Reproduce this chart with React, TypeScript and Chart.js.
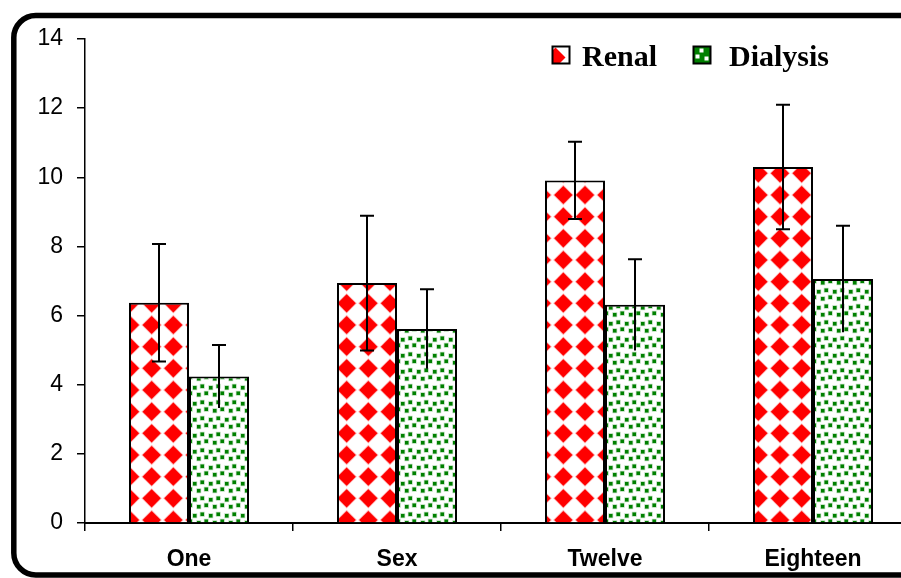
import React, { useEffect, useRef } from "react";
import { Chart, registerables } from "chart.js";

Chart.register(...registerables);

// ---- data ----
const categories = ["One", "Sex", "Twelve", "Eighteen"];
const seriesNames = ["Renal", "Dialysis"];
const renalValues = [6.37, 6.94, 9.91, 10.3];
const renalErrors = [1.7, 1.95, 1.12, 1.8];
const dialysisValues = [4.24, 5.61, 6.31, 7.06];
const dialysisErrors = [0.91, 1.15, 1.32, 1.54];
const yMin = 0;
const yMax = 14;
const yStep = 2;

const RED = "#ff0000";
const GREEN = "#008000";

function drawDiamond(g: CanvasRenderingContext2D, cx: number, cy: number, h: number) {
  g.beginPath();
  g.moveTo(cx, cy - h);
  g.lineTo(cx + h, cy);
  g.lineTo(cx, cy + h);
  g.lineTo(cx - h, cy);
  g.closePath();
}

function makeDiamondPattern(ctx: CanvasRenderingContext2D): CanvasPattern {
  const size = 65;
  const s = size / 3;
  const c = document.createElement("canvas");
  c.width = size;
  c.height = size;
  const g = c.getContext("2d")!;
  g.fillStyle = "#ffffff";
  g.fillRect(0, 0, size, size);
  for (let i = -1; i <= 3; i++) {
    for (let j = -1; j <= 3; j++) {
      const cx = i * s;
      const cy = j * s;
      drawDiamond(g, cx, cy, 10.2);
      g.fillStyle = "rgba(255,120,120,0.55)";
      g.fill();
      drawDiamond(g, cx, cy, 9.1);
      g.fillStyle = RED;
      g.fill();
    }
  }
  return ctx.createPattern(c, "repeat")!;
}

function makeDotPattern(ctx: CanvasRenderingContext2D): CanvasPattern {
  const size = 16;
  const c = document.createElement("canvas");
  c.width = size;
  c.height = size;
  const g = c.getContext("2d")!;
  g.fillStyle = "#ffffff";
  g.fillRect(0, 0, size, size);
  const spots = [
    [1, 2],
    [8.5, 0.5],
    [5, 9],
    [12.5, 7.5],
  ];
  for (const [x, y] of spots) {
    for (const dx of [-size, 0, size]) {
      for (const dy of [-size, 0, size]) {
        g.fillStyle = "rgba(0,128,0,0.3)";
        g.fillRect(x + dx - 0.7, y + dy - 0.7, 4.9, 4.9);
        g.fillStyle = GREEN;
        g.fillRect(x + dx, y + dy, 3.5, 3.5);
      }
    }
  }
  return ctx.createPattern(c, "repeat")!;
}

const framePlugin = {
  id: "frame",
  beforeDraw(chart: any) {
    const ctx = chart.ctx;
    ctx.save();
    ctx.lineWidth = 5.5;
    ctx.strokeStyle = "#000";
    ctx.beginPath();
    (ctx as any).roundRect(13.8, 15.5, 1000, 559.5, 22);
    ctx.stroke();
    ctx.restore();
  },
};

const errorBarPlugin = {
  id: "errorBars",
  afterDatasetsDraw(chart: any) {
    const ctx = chart.ctx;
    const yScale = chart.scales.y;
    ctx.save();
    ctx.strokeStyle = "#000";
    ctx.lineWidth = 2;
    chart.data.datasets.forEach((ds: any, di: number) => {
      const meta = chart.getDatasetMeta(di);
      meta.data.forEach((bar: any, i: number) => {
        const v = ds.data[i];
        const e = ds.errors[i];
        const x = Math.round(bar.x);
        const yt = yScale.getPixelForValue(v + e);
        const yb = yScale.getPixelForValue(v - e);
        ctx.beginPath();
        ctx.moveTo(x, yt);
        ctx.lineTo(x, yb);
        ctx.moveTo(x - 7, yt);
        ctx.lineTo(x + 7, yt);
        if (ds.lowerCap) {
          ctx.moveTo(x - 7, yb);
          ctx.lineTo(x + 7, yb);
        }
        ctx.stroke();
      });
    });
    ctx.restore();
  },
};

const legendPlugin = {
  id: "customLegend",
  afterDraw(chart: any) {
    const ctx = chart.ctx;
    const ds = chart.data.datasets;
    const items = [
      { box: 552.5, text: 582 },
      { box: 693.5, text: 729 },
    ];
    const top = 46.5;
    const sz = 17;
    ctx.save();
    items.forEach((it, i) => {
      ctx.save();
      ctx.beginPath();
      ctx.rect(it.box, top, sz, sz);
      ctx.clip();
      if (i === 0) {
        ctx.fillStyle = "#fff";
        ctx.fillRect(it.box, top, sz, sz);
        drawDiamond(ctx, it.box + 3, top + 11, 10);
        ctx.fillStyle = RED;
        ctx.fill();
      } else {
        ctx.fillStyle = GREEN;
        ctx.fillRect(it.box, top, sz, sz);
        ctx.fillStyle = "#fff";
        ctx.fillRect(it.box + 6, top + 2, 4, 4);
        ctx.fillRect(it.box + 2, top + 8, 4, 4);
        ctx.fillRect(it.box + 11, top + 10, 4, 4);
      }
      ctx.restore();
      ctx.lineWidth = 2;
      ctx.strokeStyle = "#000";
      ctx.strokeRect(it.box, top, sz, sz);
      ctx.fillStyle = "#000";
      ctx.font = "bold 30px 'Liberation Serif', 'Times New Roman', serif";
      ctx.textBaseline = "alphabetic";
      ctx.textAlign = "left";
      ctx.fillText(ds[i].label, it.text, 65.5);
    });
    ctx.restore();
  },
};

export default function App() {
  const ref = useRef<HTMLCanvasElement>(null);

  useEffect(() => {
    const canvas = ref.current!;
    const ctx = canvas.getContext("2d")!;
    const redPattern = makeDiamondPattern(ctx);
    const greenPattern = makeDotPattern(ctx);

    const chart = new Chart(canvas, {
      type: "bar",
      data: {
        labels: categories,
        datasets: [
          {
            label: seriesNames[0],
            data: renalValues,
            errors: renalErrors,
            lowerCap: true,
            backgroundColor: redPattern,
            borderColor: "#000",
            borderWidth: 2,
            categoryPercentage: 0.577,
            barPercentage: 1.0,
          } as any,
          {
            label: seriesNames[1],
            data: dialysisValues,
            errors: dialysisErrors,
            lowerCap: false,
            backgroundColor: greenPattern,
            borderColor: "#000",
            borderWidth: 2,
            categoryPercentage: 0.577,
            barPercentage: 1.0,
          } as any,
        ],
      },
      options: {
        responsive: false,
        animation: false,
        layout: { padding: { left: 0, right: 13, top: 39, bottom: 0 } },
        plugins: {
          legend: { display: false },
          tooltip: { enabled: false },
        },
        scales: {
          x: {
            grid: {
              display: true,
              drawOnChartArea: false,
              drawTicks: true,
              tickLength: 8,
              color: "#000",
              lineWidth: 1.5,
              offset: true,
            },
            border: { display: true, color: "#000", width: 2 },
            ticks: {
              color: "#000",
              padding: 15,
              font: { family: "'Liberation Sans', Arial, sans-serif", size: 23, weight: "bold" },
            },
            afterFit: (s: any) => {
              s.height = 55;
            },
          },
          y: {
            min: yMin,
            max: yMax,
            grid: {
              display: true,
              drawOnChartArea: false,
              drawTicks: true,
              tickLength: 8,
              color: "#000",
              lineWidth: 1.5,
            },
            border: { display: true, color: "#000", width: 1.5 },
            ticks: {
              stepSize: yStep,
              color: "#000",
              padding: 14,
              font: { family: "'Liberation Sans', Arial, sans-serif", size: 23 },
            },
            afterFit: (s: any) => {
              s.width = 85;
            },
          },
        },
      } as any,
      plugins: [framePlugin, errorBarPlugin, legendPlugin],
    });
    return () => chart.destroy();
  }, []);

  return (
    <div
      style={{
        position: "absolute",
        left: 0,
        top: 0,
        width: 901,
        height: 578,
        overflow: "hidden",
        background: "#fff",
      }}
    >
      <canvas ref={ref} width={930} height={578} style={{ display: "block", width: 930, height: 578 }} />
    </div>
  );
}
